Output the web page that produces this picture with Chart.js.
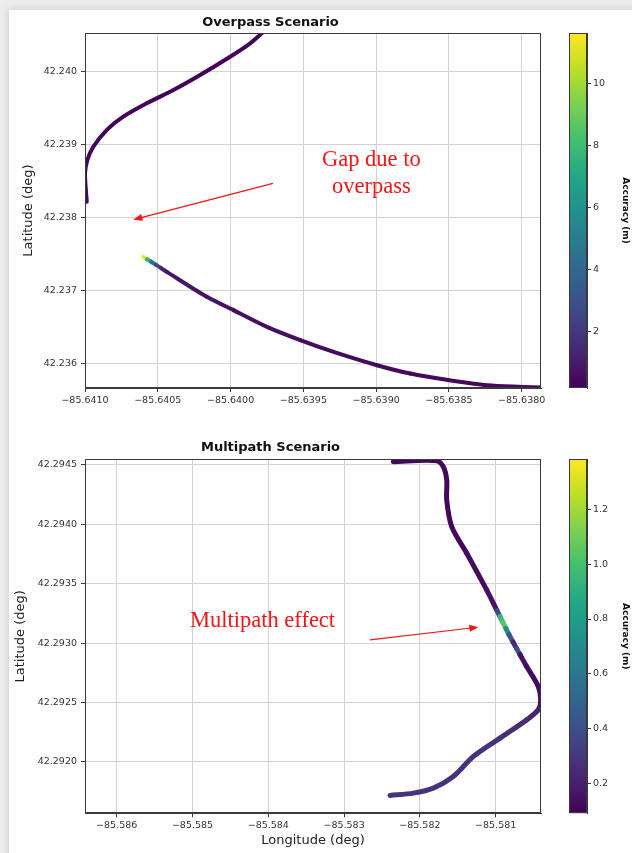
<!DOCTYPE html>
<html><head><meta charset="utf-8">
<script src="https://cdn.jsdelivr.net/npm/chart.js@4/dist/chart.umd.min.js"></script>
<style>
html,body{margin:0;padding:0;width:632px;height:853px;overflow:hidden;background:#ededed;}
#card{position:absolute;left:9px;top:10px;width:700px;height:900px;background:#fff;box-shadow:0 0 7px 2px rgba(0,0,0,0.10);}
canvas{position:absolute;}
</style></head><body>
<div id="card"></div>
<canvas id="c1" width="632" height="420" style="left:0;top:0"></canvas>
<canvas id="cb1" width="72" height="420" style="left:560px;top:0"></canvas>
<canvas id="c2" width="632" height="433" style="left:0;top:420px"></canvas>
<canvas id="cb2" width="72" height="433" style="left:560px;top:420px"></canvas>
<script>
// ---------- DATA ----------
// Overpass scenario, track before the overpass (upper)
const overpassLonA = [-85.640988,-85.641000,-85.640984,-85.640943,-85.640851,-85.640737,-85.640576,-85.640393,-85.640209,-85.640003,-85.639865,-85.639785];
const overpassLatA = [42.238219,42.238608,42.238790,42.238973,42.239201,42.239384,42.239567,42.239749,42.239955,42.240205,42.240389,42.240526];
const overpassAccA = [0.35,0.3,0.3,0.3,0.3,0.3,0.3,0.3,0.3,0.3,0.3,0.3];
// Overpass scenario, track after the overpass (lower)
const overpassLonB = [-85.640599,-85.640574,-85.640546,-85.640512,-85.640477,-85.640438,-85.640163,-85.639980,-85.639750,-85.639521,-85.639292,-85.638994,-85.638765,-85.638496,-85.638237,-85.637996,-85.637866];
const overpassLatB = [42.237466,42.237433,42.237399,42.237355,42.237311,42.237260,42.236918,42.236736,42.236507,42.236325,42.236164,42.235982,42.235868,42.235777,42.235708,42.235685,42.235676];
const overpassAccB = [11.4,7.5,4.5,2.5,1.2,0.8,0.7,0.6,0.6,0.5,0.5,0.45,0.4,0.4,0.4,0.35,0.35];
// Multipath scenario track
const multipathLon = [-85.582351,-85.581778,-85.581691,-85.581646,-85.581646,-85.581580,-85.581382,-85.581119,-85.580983,-85.580943,-85.580904,-85.580864,-85.580824,-85.580771,-85.580723,-85.580679,-85.580591,-85.580438,-85.580406,-85.580438,-85.580591,-85.580943,-85.581295,-85.581559,-85.581823,-85.582087,-85.582394];
const multipathLat = [42.294528,42.294536,42.294486,42.294374,42.294205,42.293981,42.293757,42.293448,42.293274,42.293223,42.293172,42.293122,42.293071,42.293009,42.292953,42.292903,42.292802,42.292634,42.292522,42.292438,42.292353,42.292199,42.292044,42.291876,42.291778,42.291736,42.291716];
const multipathAcc = [0.12,0.12,0.12,0.12,0.12,0.12,0.13,0.15,0.35,0.95,1.05,0.7,0.45,0.25,0.4,0.15,0.13,0.13,0.15,0.22,0.26,0.28,0.28,0.28,0.28,0.28,0.28];

// Axis ranges and ticks
const overpassXRange = [-85.6410, -85.637867];
const overpassYRange = [42.23567, 42.24053];
const overpassXTicks = [-85.6410,-85.6405,-85.6400,-85.6395,-85.6390,-85.6385,-85.6380];
const overpassYTicks = [42.236,42.237,42.238,42.239,42.240];
const overpassCRange = [0.16, 11.63];
const overpassCTicks = [2,4,6,8,10];

const multipathXRange = [-85.586418, -85.580402];
const multipathYRange = [42.291566, 42.294548];
const multipathXTicks = [-85.586,-85.585,-85.584,-85.583,-85.582,-85.581];
const multipathYTicks = [42.2920,42.2925,42.2930,42.2935,42.2940,42.2945];
const multipathCRange = [0.092, 1.382];
const multipathCTicks = [0.2,0.4,0.6,0.8,1.0,1.2];

// Annotations (data coordinates)
const overpassNote = {text:['Gap due to','overpass'], lon:-85.639033, lat:[42.238704,42.238334], arrowFrom:[-85.639709,42.238471], arrowTo:[-85.640668,42.237975]};
const multipathNote = {text:['Multipath effect'], lon:-85.584076, lat:[42.293134], arrowFrom:[-85.582658,42.293027], arrowTo:[-85.581229,42.293134]};

// ---------- STYLE HELPERS ----------
const VIRIDIS = ['#440154','#482475','#414487','#355f8d','#2a788e','#21918c','#22a884','#44bf70','#7ad151','#bddf26','#fde725'];
function rgb(h){return [parseInt(h.slice(1,3),16),parseInt(h.slice(3,5),16),parseInt(h.slice(5,7),16)];}
function viridis(t){
  t=Math.max(0,Math.min(1,t));
  const n=VIRIDIS.length-1, i=Math.min(n-1,Math.floor(t*n)), f=t*n-i;
  const a=rgb(VIRIDIS[i]), b=rgb(VIRIDIS[i+1]);
  return 'rgb('+a.map((v,k)=>Math.round(v+(b[k]-v)*f)).join(',')+')';
}
function fmt(v,dec){return (v<0?'\u2212':'')+Math.abs(v).toFixed(dec);}
const TICK_FONT={family:'DejaVu Sans',size:9.5};
const TICK_COLOR='#333';
const GRID_COLOR='#d2d2d2';
const SPINE='#3a3a3a';

const framePlugin={id:'frame',afterDatasetsDraw(chart){
  const a=chart.chartArea, c=chart.ctx;
  c.save(); c.strokeStyle=SPINE; c.lineWidth=1;
  c.strokeRect(Math.round(a.left)+0.5,Math.round(a.top)+0.5,Math.round(a.right)-Math.round(a.left)-1,Math.round(a.bottom)-Math.round(a.top)-1);
  c.restore();
}};
const notePlugin={id:'note',afterDraw(chart,args,opts){
  const n=opts.note; if(!n) return;
  const x=chart.scales.x, y=chart.scales.y, c=chart.ctx;
  c.save();
  c.fillStyle='#f21616'; c.strokeStyle='#f21616';
  c.font='22.5px "Liberation Serif", "Times New Roman", serif';
  c.textAlign='center'; c.textBaseline='alphabetic';
  n.text.forEach((t,i)=>c.fillText(t,x.getPixelForValue(n.lon),y.getPixelForValue(n.lat[i])));
  const x0=x.getPixelForValue(n.arrowFrom[0]), y0=y.getPixelForValue(n.arrowFrom[1]);
  const x1=x.getPixelForValue(n.arrowTo[0]), y1=y.getPixelForValue(n.arrowTo[1]);
  const ang=Math.atan2(y1-y0,x1-x0), L=9, W=3.6;
  c.lineWidth=1.2; c.beginPath(); c.moveTo(x0,y0); c.lineTo(x1-Math.cos(ang)*L*0.8,y1-Math.sin(ang)*L*0.8); c.stroke();
  c.beginPath(); c.moveTo(x1,y1);
  c.lineTo(x1-Math.cos(ang)*L-Math.sin(ang)*W, y1-Math.sin(ang)*L+Math.cos(ang)*W);
  c.lineTo(x1-Math.cos(ang)*L+Math.sin(ang)*W, y1-Math.sin(ang)*L-Math.cos(ang)*W);
  c.closePath(); c.fill();
  c.restore();
}};

function mainChart(id, cfg){
  const span=cfg.cRange[1]-cfg.cRange[0];
  return new Chart(document.getElementById(id),{
    type:'scatter',
    data:{datasets:cfg.tracks.map(tr=>({
      data:tr.lon.map((v,i)=>({x:v,y:tr.lat[i]})),
      showLine:true,pointRadius:0,pointHoverRadius:0,borderWidth:cfg.lineWidth,tension:0.3,
      borderCapStyle:'round',borderJoinStyle:'round',clip:0,
      borderColor:viridis((tr.acc[0]-cfg.cRange[0])/span),
      segment:{borderColor:ctx=>viridis((tr.acc[ctx.p0DataIndex]-cfg.cRange[0])/span)}
    }))},
    options:{
      responsive:false,animation:false,devicePixelRatio:1,
      layout:{padding:{left:0,right:91,top:0,bottom:0}},
      plugins:{legend:{display:false},tooltip:{enabled:false},
        title:{display:true,text:cfg.title,color:'#111',font:{family:'DejaVu Sans',size:13,weight:'bold'},padding:cfg.titlePad},
        note:{note:cfg.note}},
      scales:{
        x:{type:'linear',min:cfg.xRange[0],max:cfg.xRange[1],
          afterBuildTicks:s=>{s.ticks=cfg.xTicks.map(v=>({value:v}));},
          afterFit:s=>{s.height=cfg.xAxisH;},
          ticks:{callback:v=>fmt(v,cfg.xDec),font:TICK_FONT,color:TICK_COLOR,padding:3,maxRotation:0,autoSkip:false},
          grid:{color:GRID_COLOR,tickColor:SPINE,tickLength:4},
          border:{color:SPINE,width:1},
          title:cfg.xTitle?{display:true,text:cfg.xTitle,color:'#222',font:{family:'DejaVu Sans',size:13},padding:{top:0,bottom:4.2}}:{display:false}},
        y:{type:'linear',min:cfg.yRange[0],max:cfg.yRange[1],
          afterBuildTicks:s=>{s.ticks=cfg.yTicks.map(v=>({value:v}));},
          afterFit:s=>{s.width=85;},
          ticks:{callback:v=>fmt(v,cfg.yDec),font:TICK_FONT,color:TICK_COLOR,padding:4,autoSkip:false},
          grid:{color:GRID_COLOR,tickColor:SPINE,tickLength:4},
          border:{color:SPINE,width:1},
          title:{display:true,text:'Latitude (deg)',color:'#222',font:{family:'DejaVu Sans',size:13},padding:{top:cfg.yTitlePad,bottom:0}}}
      }
    },
    plugins:[framePlugin,notePlugin]
  });
}

function colorbar(id,cfg){
  return new Chart(document.getElementById(id),{
    type:'bar',
    data:{labels:[''],datasets:[{data:[cfg.cRange.slice()],
      backgroundColor:ctx=>{const a=ctx.chart.chartArea; if(!a) return VIRIDIS[0];
        const g=ctx.chart.ctx.createLinearGradient(0,a.bottom,0,a.top);
        VIRIDIS.forEach((c,i)=>g.addColorStop(i/(VIRIDIS.length-1),c)); return g;},
      borderWidth:0,barPercentage:1,categoryPercentage:1,borderSkipped:false}]},
    options:{responsive:false,animation:false,devicePixelRatio:1,
      layout:{padding:{left:9,right:0,top:cfg.padTop,bottom:cfg.padBottom}},
      plugins:{legend:{display:false},tooltip:{enabled:false}},
      scales:{
        x:{display:false},
        y:{position:'right',min:cfg.cRange[0],max:cfg.cRange[1],
          afterBuildTicks:s=>{s.ticks=cfg.cTicks.map(v=>({value:v}));},
          afterFit:s=>{s.width=45;},
          ticks:{callback:v=>v.toFixed(cfg.cDec),font:TICK_FONT,color:TICK_COLOR,padding:2,autoSkip:false},
          grid:{drawOnChartArea:false,tickColor:SPINE,tickLength:4},
          border:{color:SPINE,width:1},
          title:{display:true,text:'Accuracy (m)',color:'#111',font:{family:'DejaVu Sans',size:9,weight:'bold'},padding:{top:1.6,bottom:0}}}
      }},
    plugins:[framePlugin]
  });
}

mainChart('c1',{
  title:'Overpass Scenario', titlePad:{top:15,bottom:2.4},
  tracks:[{lon:overpassLonA,lat:overpassLatA,acc:overpassAccA},{lon:overpassLonB,lat:overpassLatB,acc:overpassAccB}],
  cRange:overpassCRange, lineWidth:4,
  xRange:overpassXRange, yRange:overpassYRange, xTicks:overpassXTicks, yTicks:overpassYTicks,
  xDec:4, yDec:3, xAxisH:32, xTitle:null, yTitlePad:21.2, note:overpassNote
});
colorbar('cb1',{cRange:overpassCRange,cTicks:overpassCTicks,cDec:0,padTop:33,padBottom:32});

mainChart('c2',{
  title:'Multipath Scenario', titlePad:{top:19.7,bottom:4},
  tracks:[{lon:multipathLon,lat:multipathLat,acc:multipathAcc}],
  cRange:multipathCRange, lineWidth:5,
  xRange:multipathXRange, yRange:multipathYRange, xTicks:multipathXTicks, yTicks:multipathYTicks,
  xDec:3, yDec:4, xAxisH:39.7, xTitle:'Longitude (deg)', yTitlePad:13.2, note:multipathNote
});
colorbar('cb2',{cRange:multipathCRange,cTicks:multipathCTicks,cDec:1,padTop:39.3,padBottom:39.7});
</script>
</body></html>
